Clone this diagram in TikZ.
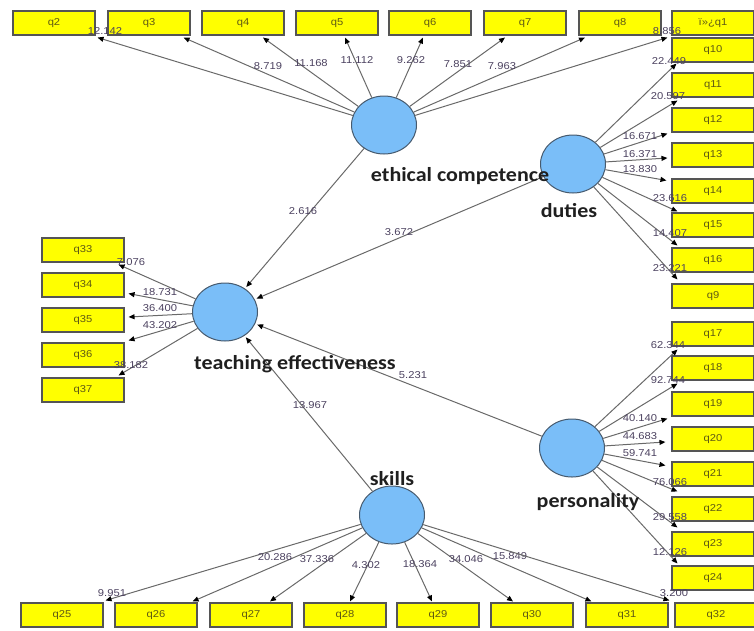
\documentclass[tikz,border=0pt]{standalone}
\usepackage{fontspec}
\setmainfont{Liberation Sans}
\newfontfamily\valFont[FakeStretch=1.12]{Liberation Sans}
\newfontfamily\lvFont[FakeStretch=1.1]{Carlito}
\usetikzlibrary{arrows.meta, shapes.geometric, calc}
\definecolor{plsYellow}{RGB}{255, 255, 0}
\definecolor{plsBlue}{RGB}{122, 190, 248}
\definecolor{plsEdge}{RGB}{105, 105, 105}
\definecolor{plsVal}{RGB}{75, 65, 95}
\definecolor{plsText}{RGB}{95, 90, 20}
\definecolor{plsBorder}{RGB}{85, 85, 85}
\definecolor{plsRing}{RGB}{70, 90, 110}
\tikzset{
    indicatorBox/.style={draw=plsBorder, line width=1.1pt, fill=plsYellow,
        minimum width=82pt, minimum height=24pt, inner sep=0pt, text=plsText,
        font=\valFont\fontsize{10}{11}\selectfont},
    latentVar/.style={ellipse, draw=plsRing, line width=1pt, fill=plsBlue,
        minimum width=65pt, minimum height=58pt, inner sep=0pt},
    latentLbl/.style={anchor=base, inner sep=0pt, text=black!88,
        font=\lvFont\bfseries\fontsize{20}{22}\selectfont},
    loadArrow/.style={draw=plsEdge, line width=1pt,
        -{Triangle[length=6pt, width=5pt, color=black]}},
    pathArrow/.style={loadArrow, shorten >=2pt},
    loadVal/.style={inner sep=0pt, text=plsVal,
        font=\valFont\fontsize{10}{11}\selectfont},
}

\begin{document}
\begin{tikzpicture}[x=1pt, y=-1pt]
    \useasboundingbox (0,0) rectangle (754,630);

    % Latent variables
    \node[latentVar] (ethical) at (384,125) {};
    \node[latentVar] (duties) at (573,164) {};
    \node[latentVar] (teaching) at (225,312) {};
    \node[latentVar] (personality) at (572,448) {};
    \node[latentVar] (skills) at (392,515) {};

    % Indicators
    \foreach \n/\x in {q2/54, q3/149, q4/243, q5/337, q6/430, q7/525, q8/620}
        \node[indicatorBox] (\n) at (\x,23) {\n};
    \node[indicatorBox] (q1) at (713,23) {ï»¿q1};
    \foreach \n/\y in {q10/50, q11/85, q12/120, q13/155, q14/191, q15/225,
                       q16/260, q9/296, q17/334, q18/368, q19/404, q20/439,
                       q21/474, q22/509, q23/544, q24/578}
        \node[indicatorBox] (\n) at (713,\y) {\n};
    \foreach \n/\x in {q25/62, q26/156, q27/251, q28/345, q29/438, q30/532,
                       q31/627, q32/716}
        \node[indicatorBox] (\n) at (\x,615) {\n};
    \foreach \n/\y in {q33/250, q34/285, q35/320, q36/355, q37/390}
        \node[indicatorBox] (\n) at (83,\y) {\n};

    % Outer loadings
    \foreach \src/\a/\dx/\dy/\val/\lx/\ly in {
        ethical/q2.south east/2/2/12.142/105/31,
        ethical/q3.south east/-7/2/8.719/268/66,
        ethical/q4.south/20/2/11.168/311/63,
        ethical/q5.south/8/2/11.112/357/60,
        ethical/q6.south/-7/2/9.262/411/60,
        ethical/q7.south/-20/2/7.851/458/64,
        ethical/q8.south/-35/2/7.963/502/66,
        ethical/q1.south west/-4/2/8.856/667/31,
        duties/q10.south west/5/1/22.449/669/61,
        duties/q11.south west/6/3/20.597/668/96,
        duties/q12.south west/-4/1/16.671/640/136,
        duties/q13.west/-4/3/16.371/640/154,
        duties/q14.north west/-5/2/13.830/640/169,
        duties/q15.north west/6/-1/23.616/670/198,
        duties/q16.north west/6/-2/14.407/670/233,
        duties/q9.north west/6/-4/23.221/670/268,
        personality/q17.south west/6/3/62.344/668/345,
        personality/q18.south west/6/3/92.744/668/380,
        personality/q19.south west/-4/2/40.140/640/418,
        personality/q20.west/-6/3/44.683/640/436,
        personality/q21.north west/-6/4/59.741/640/453,
        personality/q22.north west/6/-5/76.066/670/482,
        personality/q23.north west/6/-4/29.558/670/517,
        personality/q24.north west/6/-2/12.126/670/552,
        skills/q25.north east/2/-2/9.951/112/593,
        skills/q26.north east/-5/-1/20.286/275/557,
        skills/q27.north/19/-1/37.336/317/559,
        skills/q28.north/5/-1/4.302/366/565,
        skills/q29.north/-6/-1/18.364/420/564,
        skills/q30.north/-19/-1/34.046/466/559,
        skills/q31.north west/6/-1/15.849/510/556,
        skills/q32.north west/-5/-2/3.200/674/593,
        teaching/q33.south east/-6/2/7.076/131/262,
        teaching/q34.south east/4/-4/18.731/160/292,
        teaching/q35.east/4/-3/36.400/160/308,
        teaching/q36.north east/4/-2/43.202/160/325,
        teaching/q37.north east/-6/-2/38.182/131/365}
    {
        \draw[loadArrow] (\src) -- ($(\a)+(\dx,\dy)$);
        \node[loadVal] at (\lx,\ly) {\val};
    }

    % Path coefficients
    \draw[pathArrow] (ethical) -- (teaching);
    \draw[pathArrow] (duties) -- (teaching);
    \draw[pathArrow] (personality) -- (teaching);
    \draw[pathArrow] (skills) -- (teaching);
    \node[loadVal] (bEthical) at (303,211) {2.616};
    \node[loadVal] (bDuties) at (399,232) {3.672};
    \node[loadVal] (bPersonality) at (413,375) {5.231};
    \node[loadVal] (bSkills) at (310,405) {13.967};

    % Construct names
    \node[latentLbl] (ethicalLbl) at (460,181) {ethical competence};
    \node[latentLbl] (dutiesLbl) at (569,217) {duties};
    \node[latentLbl] (teachingLbl) at (295,369) {teaching effectiveness};
    \node[latentLbl] (personalityLbl) at (588,507) {personality};
    \node[latentLbl] (skillsLbl) at (392,485) {skills};

\end{tikzpicture}
\end{document}
